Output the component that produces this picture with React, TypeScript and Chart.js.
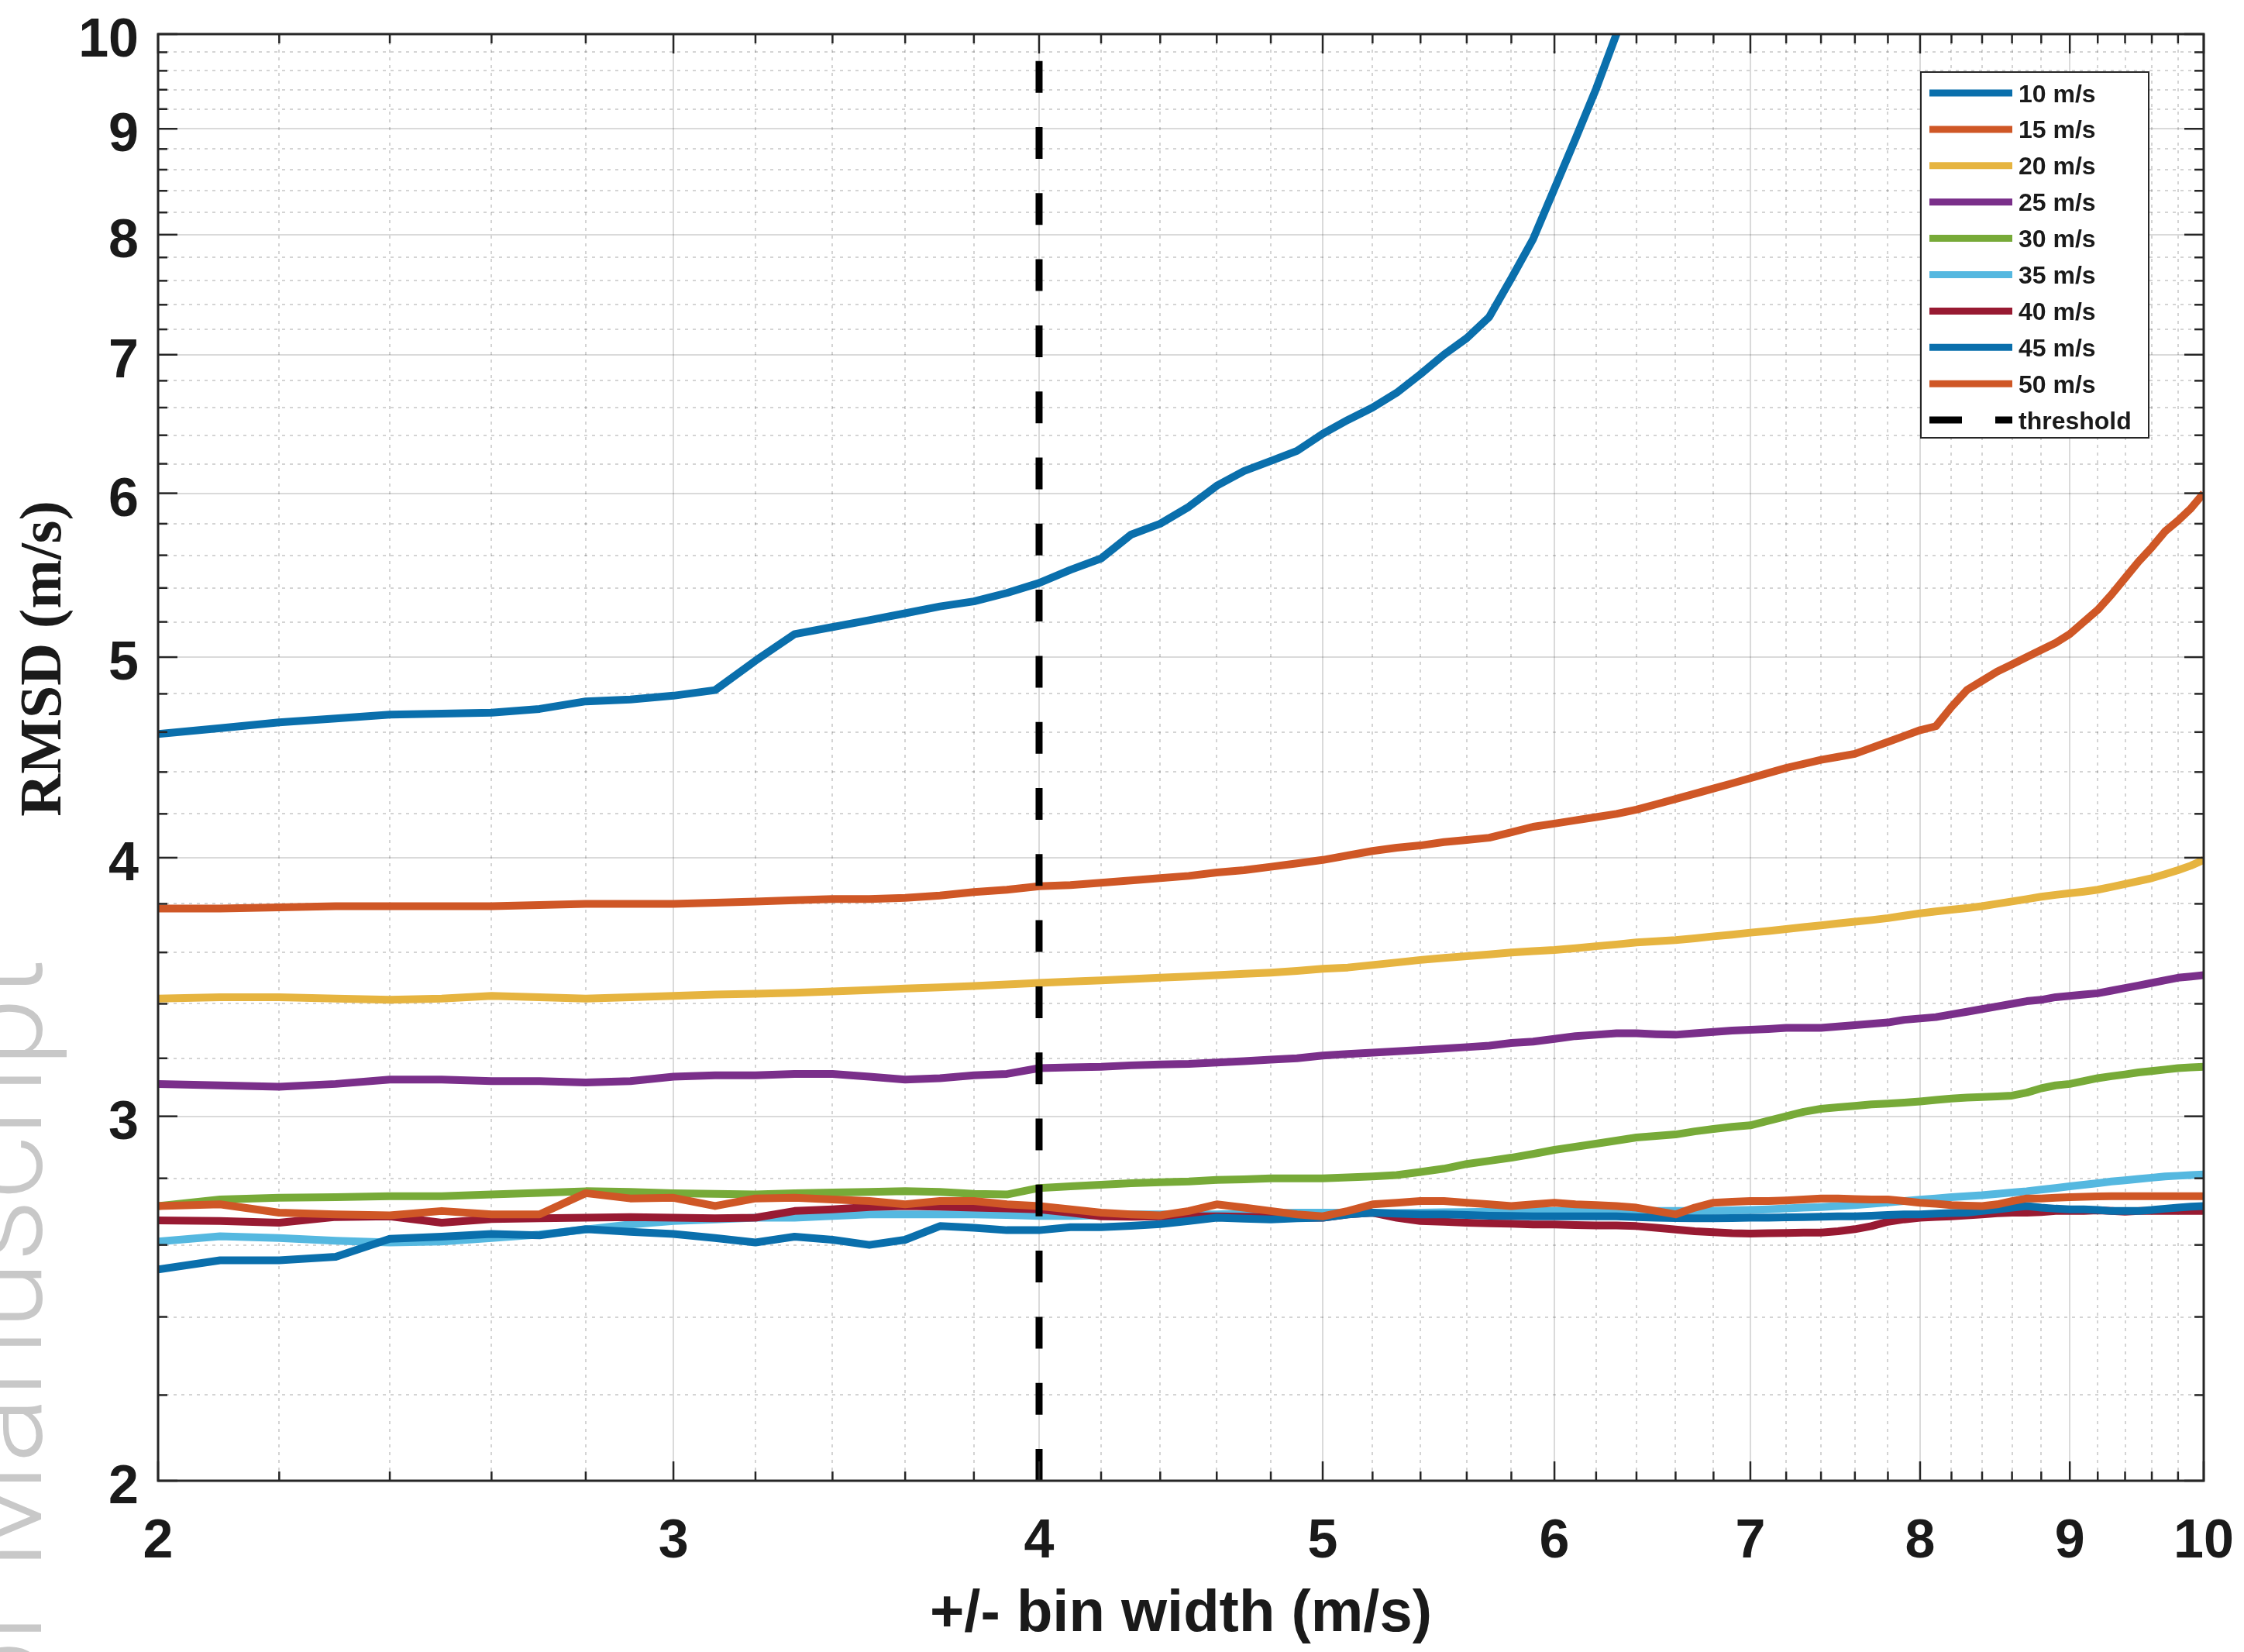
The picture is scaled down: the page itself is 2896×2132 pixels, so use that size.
import React, { useEffect, useRef } from 'react';
import { Chart, registerables } from 'chart.js';

Chart.register(...registerables);

// x values: +/- bin width (m/s)
const binWidth = [
  2.0, 2.1, 2.2, 2.3, 2.4, 2.5, 2.6, 2.7, 2.8, 2.9,
  3.0, 3.1, 3.2, 3.3, 3.4, 3.5, 3.6, 3.7, 3.8, 3.9,
  4.0, 4.1, 4.2, 4.3, 4.4, 4.5, 4.6, 4.7, 4.8, 4.9,
  5.0, 5.1, 5.2, 5.3, 5.4, 5.5, 5.6, 5.7, 5.8, 5.9,
  6.0, 6.1, 6.2, 6.3, 6.4, 6.5, 6.6, 6.7, 6.8, 6.9,
  7.0, 7.1, 7.2, 7.3, 7.4, 7.5, 7.6, 7.7, 7.8, 7.9,
  8.0, 8.1, 8.2, 8.3, 8.4, 8.5, 8.6, 8.7, 8.8, 8.9,
  9.0, 9.1, 9.2, 9.3, 9.4, 9.5, 9.6, 9.7, 9.8, 9.9,
  10.0,
];

// RMSD (m/s) per wind speed
const rmsd10 = [
  4.59, 4.62, 4.65, 4.67, 4.69, 4.695, 4.70, 4.72, 4.76, 4.77,
  4.79, 4.82, 4.98, 5.13, 5.17, 5.21, 5.25, 5.29, 5.32, 5.37,
  5.43, 5.51, 5.58, 5.73, 5.80, 5.91, 6.05, 6.15, 6.22, 6.29,
  6.41, 6.51, 6.60, 6.71, 6.85, 7.00, 7.13, 7.30, 7.62, 7.96,
  8.42, 8.90, 9.41, 10.0, 10.6, 11.2,
];
const rmsd15 = [
  3.78, 3.78, 3.785, 3.79, 3.79, 3.79, 3.79, 3.795, 3.80, 3.80,
  3.80, 3.805, 3.81, 3.815, 3.82, 3.82, 3.825, 3.835, 3.85, 3.86,
  3.875, 3.88, 3.89, 3.90, 3.91, 3.92, 3.935, 3.945, 3.96, 3.975,
  3.99, 4.01, 4.03, 4.045, 4.055, 4.07, 4.08, 4.09, 4.115, 4.14,
  4.155, 4.17, 4.185, 4.20, 4.22, 4.245, 4.27, 4.295, 4.32, 4.345,
  4.37, 4.395, 4.42, 4.44, 4.46, 4.475, 4.49, 4.52, 4.55, 4.58,
  4.61, 4.63, 4.73, 4.82, 4.87, 4.92, 4.96, 5.00, 5.04, 5.08,
  5.13, 5.20, 5.27, 5.36, 5.46, 5.56, 5.65, 5.75, 5.82, 5.90,
  6.0,
];
const rmsd20 = [
  3.42, 3.425, 3.425, 3.42, 3.415, 3.42, 3.43, 3.425, 3.42, 3.425,
  3.43, 3.435, 3.438, 3.442, 3.447, 3.452, 3.458, 3.463, 3.468, 3.474,
  3.48, 3.485, 3.49, 3.495, 3.50, 3.505, 3.51, 3.515, 3.52, 3.527,
  3.535, 3.54, 3.55, 3.56, 3.57, 3.578, 3.585, 3.592, 3.60, 3.605,
  3.61, 3.617, 3.625, 3.632, 3.64, 3.645, 3.65, 3.657, 3.665, 3.672,
  3.68, 3.687, 3.695, 3.703, 3.71, 3.718, 3.725, 3.732, 3.74, 3.75,
  3.76, 3.768, 3.775, 3.782, 3.79, 3.80, 3.81, 3.82, 3.83, 3.838,
  3.845, 3.852, 3.86, 3.872, 3.885, 3.897, 3.91, 3.927, 3.945, 3.965,
  3.99,
];
const rmsd25 = [
  3.11, 3.105, 3.10, 3.11, 3.125, 3.125, 3.12, 3.12, 3.115, 3.12,
  3.135, 3.14, 3.14, 3.145, 3.145, 3.135, 3.125, 3.13, 3.14, 3.145,
  3.165, 3.168, 3.17, 3.175, 3.178, 3.18, 3.185, 3.19, 3.195, 3.20,
  3.21, 3.215, 3.22, 3.225, 3.23, 3.235, 3.24, 3.245, 3.255, 3.26,
  3.27, 3.28, 3.285, 3.29, 3.29, 3.287, 3.285, 3.29, 3.295, 3.30,
  3.303, 3.306, 3.31, 3.31, 3.31, 3.315, 3.32, 3.325, 3.33, 3.34,
  3.345, 3.35, 3.36, 3.37, 3.38, 3.39, 3.40, 3.41, 3.415, 3.425,
  3.43, 3.435, 3.44, 3.45, 3.46, 3.47, 3.48, 3.49, 3.50, 3.505,
  3.51,
];
const rmsd30 = [
  2.715, 2.735, 2.74, 2.742, 2.745, 2.745, 2.75, 2.755, 2.76, 2.758,
  2.754, 2.752, 2.75, 2.754, 2.756, 2.758, 2.76, 2.758, 2.752, 2.75,
  2.77, 2.775, 2.78, 2.785, 2.788, 2.79, 2.795, 2.797, 2.80, 2.80,
  2.80, 2.803, 2.806, 2.81, 2.82, 2.83, 2.845, 2.855, 2.865, 2.877,
  2.89, 2.90, 2.91, 2.92, 2.93, 2.935, 2.94, 2.95, 2.958, 2.965,
  2.97, 2.985, 3.00, 3.015, 3.025, 3.03, 3.035, 3.04, 3.043, 3.046,
  3.05, 3.055, 3.06, 3.063, 3.065, 3.067, 3.07, 3.08, 3.095, 3.105,
  3.11, 3.12, 3.13, 3.137, 3.143, 3.15, 3.155, 3.16, 3.165, 3.168,
  3.17,
];
const rmsd35 = [
  2.61, 2.625, 2.62, 2.612, 2.607, 2.61, 2.62, 2.63, 2.645, 2.66,
  2.67, 2.675, 2.68, 2.68, 2.685, 2.69, 2.69, 2.69, 2.69, 2.688,
  2.685, 2.685, 2.687, 2.69, 2.69, 2.69, 2.69, 2.692, 2.694, 2.695,
  2.695, 2.695, 2.694, 2.694, 2.695, 2.696, 2.697, 2.698, 2.698, 2.699,
  2.70, 2.70, 2.70, 2.70, 2.70, 2.70, 2.70, 2.70, 2.70, 2.702,
  2.703, 2.705, 2.708, 2.71, 2.712, 2.715, 2.718, 2.722, 2.726, 2.73,
  2.734, 2.738, 2.742, 2.745, 2.748, 2.752, 2.756, 2.76, 2.765, 2.77,
  2.775, 2.78, 2.785, 2.79, 2.794, 2.798, 2.802, 2.806, 2.808, 2.81,
  2.812,
];
const rmsd40 = [
  2.672, 2.67, 2.665, 2.682, 2.684, 2.665, 2.676, 2.678, 2.68, 2.682,
  2.68, 2.678, 2.68, 2.70, 2.705, 2.712, 2.715, 2.713, 2.71, 2.708,
  2.705, 2.695, 2.684, 2.683, 2.684, 2.684, 2.684, 2.683, 2.682, 2.68,
  2.68, 2.69, 2.695, 2.68, 2.67, 2.668, 2.665, 2.663, 2.662, 2.66,
  2.66, 2.658, 2.657, 2.657, 2.655, 2.65, 2.645, 2.64, 2.637, 2.634,
  2.633, 2.634, 2.635, 2.636, 2.636, 2.64, 2.646, 2.655, 2.668, 2.675,
  2.68, 2.682, 2.684, 2.687, 2.69, 2.693, 2.695, 2.695, 2.697, 2.70,
  2.70, 2.70, 2.702, 2.70, 2.698, 2.70, 2.70, 2.70, 2.70, 2.70,
  2.70,
];
const rmsd45 = [
  2.53, 2.556, 2.556, 2.566, 2.618, 2.624, 2.632, 2.628, 2.646, 2.638,
  2.632, 2.62, 2.607, 2.624, 2.615, 2.60, 2.615, 2.655, 2.65, 2.643,
  2.643, 2.652, 2.652, 2.656, 2.661, 2.67, 2.68, 2.677, 2.675, 2.678,
  2.68, 2.69, 2.695, 2.692, 2.69, 2.69, 2.688, 2.686, 2.685, 2.684,
  2.684, 2.684, 2.684, 2.684, 2.682, 2.68, 2.679, 2.678, 2.678, 2.679,
  2.68, 2.68, 2.681, 2.682, 2.683, 2.684, 2.684, 2.686, 2.688, 2.69,
  2.69, 2.692, 2.694, 2.695, 2.70, 2.705, 2.71, 2.715, 2.71, 2.707,
  2.705, 2.705, 2.703, 2.70, 2.70, 2.70, 2.703, 2.707, 2.71, 2.713,
  2.715,
];
const rmsd50 = [
  2.715, 2.72, 2.695, 2.69, 2.687, 2.70, 2.69, 2.69, 2.754, 2.738,
  2.74, 2.715, 2.738, 2.74, 2.735, 2.73, 2.72, 2.73, 2.73, 2.72,
  2.715, 2.705, 2.695, 2.69, 2.687, 2.70, 2.72, 2.71, 2.70, 2.69,
  2.684, 2.70, 2.72, 2.725, 2.73, 2.73, 2.725, 2.72, 2.715, 2.72,
  2.725, 2.72, 2.718, 2.715, 2.71, 2.70, 2.69, 2.71, 2.725, 2.728,
  2.73, 2.73, 2.732, 2.735, 2.738, 2.738, 2.736, 2.735, 2.735, 2.73,
  2.725, 2.722, 2.718, 2.716, 2.715, 2.72, 2.73, 2.738, 2.738, 2.74,
  2.742, 2.743, 2.744, 2.745, 2.745, 2.745, 2.745, 2.745, 2.745, 2.745,
  2.745,
];

const seriesLabels = ['10 m/s', '15 m/s', '20 m/s', '25 m/s', '30 m/s', '35 m/s', '40 m/s', '45 m/s', '50 m/s'];
const seriesValues = [rmsd10, rmsd15, rmsd20, rmsd25, rmsd30, rmsd35, rmsd40, rmsd45, rmsd50];
const seriesColors = ['#0a6fac', '#cf5726', '#e6b440', '#7a2f8a', '#77aa38', '#55b8e0', '#981a32', '#0a6fac', '#cf5726'];

const thresholdLabel = 'threshold';
const thresholdX = [4, 4];
const thresholdY = [2, 10];

const xTicks = [2, 3, 4, 5, 6, 7, 8, 9, 10];
const xTickLabels = ['2', '3', '4', '5', '6', '7', '8', '9', '10'];
const yTicks = [2, 3, 4, 5, 6, 7, 8, 9, 10];
const yTickLabels = ['2', '3', '4', '5', '6', '7', '8', '9', '10'];
const xTitle = '+/- bin width (m/s)';
const yTitle = 'RMSD (m/s)';
const watermark = 'Author Manuscript';

function minorValues(majors: number[]) {
  const out: number[] = [];
  for (let k = 0; k < majors.length - 1; k++) {
    for (let j = 1; j < 5; j++) out.push(majors[k] + ((majors[k + 1] - majors[k]) * j) / 5);
  }
  return out;
}

const decorPlugin = {
  id: 'decor',
  beforeDraw(chart: any) {
    const ctx = chart.ctx;
    ctx.save();
    ctx.fillStyle = '#ffffff';
    ctx.fillRect(0, 0, chart.width, chart.height);
    ctx.restore();
  },
  beforeDatasetsDraw(chart: any) {
    const { ctx, chartArea } = chart;
    const xs = chart.scales.x;
    const ys = chart.scales.y;
    const { left, right, top, bottom } = chartArea;
    ctx.save();
    // minor grid
    ctx.strokeStyle = 'rgba(38,38,38,0.2)';
    ctx.lineWidth = 2;
    ctx.setLineDash([4, 6]);
    minorValues(xTicks).forEach((v) => {
      const px = Math.round(xs.getPixelForValue(v));
      ctx.beginPath();
      ctx.moveTo(px, top);
      ctx.lineTo(px, bottom);
      ctx.stroke();
    });
    minorValues(yTicks).forEach((v) => {
      const py = Math.round(ys.getPixelForValue(v));
      ctx.beginPath();
      ctx.moveTo(left, py);
      ctx.lineTo(right, py);
      ctx.stroke();
    });
    // major grid
    ctx.setLineDash([]);
    ctx.strokeStyle = 'rgba(38,38,38,0.17)';
    ctx.lineWidth = 2;
    xTicks.forEach((v) => {
      const px = Math.round(xs.getPixelForValue(v));
      ctx.beginPath();
      ctx.moveTo(px, top);
      ctx.lineTo(px, bottom);
      ctx.stroke();
    });
    yTicks.forEach((v) => {
      const py = Math.round(ys.getPixelForValue(v));
      ctx.beginPath();
      ctx.moveTo(left, py);
      ctx.lineTo(right, py);
      ctx.stroke();
    });
    ctx.restore();
  },
  afterDatasetsDraw(chart: any) {
    const { ctx, chartArea } = chart;
    const xs = chart.scales.x;
    const ys = chart.scales.y;
    const { left, right, top, bottom } = chartArea;
    const axisColor = '#262626';
    ctx.save();
    ctx.strokeStyle = axisColor;
    ctx.lineWidth = 3;
    ctx.strokeRect(left, top, right - left, bottom - top);
    // ticks
    ctx.lineWidth = 2.5;
    const tick = (x1: number, y1: number, x2: number, y2: number) => {
      ctx.beginPath();
      ctx.moveTo(x1, y1);
      ctx.lineTo(x2, y2);
      ctx.stroke();
    };
    xTicks.forEach((v) => {
      const px = xs.getPixelForValue(v);
      tick(px, bottom, px, bottom - 25);
      tick(px, top, px, top + 25);
    });
    minorValues(xTicks).forEach((v) => {
      const px = xs.getPixelForValue(v);
      tick(px, bottom, px, bottom - 12);
      tick(px, top, px, top + 12);
    });
    yTicks.forEach((v) => {
      const py = ys.getPixelForValue(v);
      tick(left, py, left + 25, py);
      tick(right, py, right - 25, py);
    });
    minorValues(yTicks).forEach((v) => {
      const py = ys.getPixelForValue(v);
      tick(left, py, left + 12, py);
      tick(right, py, right - 12, py);
    });

    // tick labels
    ctx.fillStyle = '#1a1a1a';
    ctx.font = 'bold 70px "Liberation Sans", Arial, sans-serif';
    ctx.textBaseline = 'alphabetic';
    ctx.textAlign = 'center';
    xTicks.forEach((v, i) => {
      ctx.fillText(xTickLabels[i], xs.getPixelForValue(v), 2010);
    });
    ctx.textAlign = 'right';
    yTicks.forEach((v, i) => {
      ctx.fillText(yTickLabels[i], 179, ys.getPixelForValue(v) + 29);
    });

    // axis titles
    ctx.font = 'bold 76px "Liberation Sans", Arial, sans-serif';
    ctx.textAlign = 'center';
    ctx.fillText(xTitle, (left + right) / 2, 2105);
    ctx.save();
    ctx.translate(78, 850);
    ctx.rotate(-Math.PI / 2);
    ctx.font = 'bold 76px "Liberation Serif", "Times New Roman", serif';
    ctx.fillText(yTitle, 0, 0);
    ctx.restore();

    // legend
    const lx = 2479, ly = 93, lw = 294, lh = 472;
    ctx.fillStyle = '#ffffff';
    ctx.fillRect(lx, ly, lw, lh);
    ctx.strokeStyle = '#262626';
    ctx.lineWidth = 2;
    ctx.strokeRect(lx, ly, lw, lh);
    const rowY = (i: number) => 120 + i * 46.9;
    ctx.font = 'bold 32px "Liberation Sans", Arial, sans-serif';
    ctx.textAlign = 'left';
    seriesLabels.forEach((lab, i) => {
      const y = rowY(i);
      ctx.strokeStyle = seriesColors[i];
      ctx.lineWidth = 9;
      ctx.setLineDash([]);
      ctx.beginPath();
      ctx.moveTo(2490, y);
      ctx.lineTo(2597, y);
      ctx.stroke();
      ctx.fillStyle = '#1a1a1a';
      ctx.fillText(lab, 2605, y + 11.5);
    });
    const ty = rowY(9);
    ctx.strokeStyle = '#000000';
    ctx.lineWidth = 9;
    ctx.setLineDash([42, 43]);
    ctx.beginPath();
    ctx.moveTo(2490, ty);
    ctx.lineTo(2597, ty);
    ctx.stroke();
    ctx.setLineDash([]);
    ctx.fillStyle = '#1a1a1a';
    ctx.fillText(thresholdLabel, 2605, ty + 11.5);

    // watermark
    ctx.save();
    ctx.translate(53, 1237);
    ctx.rotate(-Math.PI / 2);
    ctx.font = '300 159px Roboto, "Liberation Sans", sans-serif';
    ctx.fillStyle = '#c8c8c8';
    ctx.textAlign = 'right';
    ctx.textBaseline = 'alphabetic';
    ctx.fillText(watermark, 0, 0);
    ctx.restore();

    ctx.restore();
  },
};

export default function App() {
  const canvasRef = useRef<HTMLCanvasElement | null>(null);

  useEffect(() => {
    if (!canvasRef.current) return;
    const datasets: any[] = seriesValues.map((vals, i) => ({
      label: seriesLabels[i],
      data: vals.map((v, k) => ({ x: binWidth[k], y: v })),
      borderColor: seriesColors[i],
      backgroundColor: seriesColors[i],
      borderWidth: 10,
      pointRadius: 0,
      tension: 0,
      fill: false,
      clip: 0,
      borderJoinStyle: 'round',
      order: -i,
    }));
    datasets.push({
      label: thresholdLabel,
      data: thresholdX.map((x, k) => ({ x, y: thresholdY[k] })),
      borderColor: '#000000',
      backgroundColor: '#000000',
      borderWidth: 9,
      borderDash: [41, 44.3],
      pointRadius: 0,
      tension: 0,
      fill: false,
      clip: 0,
      order: -20,
    });
    const chart = new Chart(canvasRef.current, {
      type: 'line',
      data: { datasets },
      options: {
        responsive: false,
        maintainAspectRatio: false,
        animation: false,
        devicePixelRatio: 1,
        events: [],
        layout: { padding: { left: 204, right: 52, top: 44, bottom: 221 } },
        plugins: { legend: { display: false }, tooltip: { enabled: false } },
        scales: {
          x: { type: 'logarithmic', min: 2, max: 10, display: false },
          y: { type: 'logarithmic', min: 2, max: 10, display: false },
        },
      } as any,
      plugins: [decorPlugin],
    });
    return () => chart.destroy();
  }, []);

  return (
    <div style={{ position: 'fixed', left: 0, top: 0, width: 2896, height: 2132, background: '#ffffff', overflow: 'hidden' }}>
      <canvas ref={canvasRef} width={2896} height={2132} style={{ display: 'block', width: 2896, height: 2132 }} />
    </div>
  );
}
